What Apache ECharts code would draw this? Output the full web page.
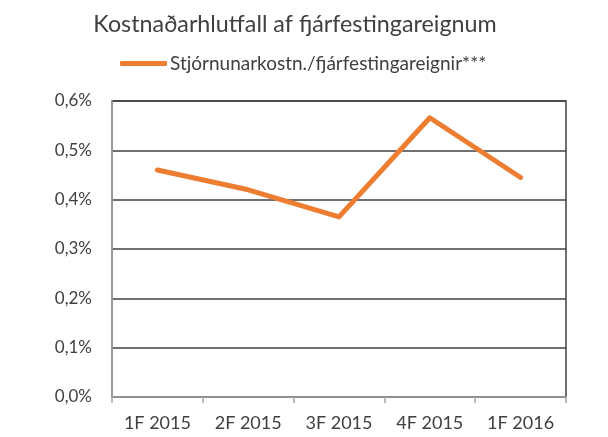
<!DOCTYPE html>
<html>
<head>
<meta charset="utf-8">
<script src="https://cdn.jsdelivr.net/npm/echarts@6/dist/echarts.min.js"></script>
<style>
  html, body { margin: 0; padding: 0; background: #fff; }
  #main { width: 608px; height: 437px; }
</style>
</head>
<body>
<div id="main"></div>
<script>
var titleText = 'Kostnaðarhlutfall af fjárfestingareignum';
var seriesName = 'Stjórnunarkostn./fjárfestingareignir***';
var categories = ['1F 2015', '2F 2015', '3F 2015', '4F 2015', '1F 2016'];
var values = [0.460, 0.420, 0.365, 0.566, 0.445];
var yMin = 0, yMax = 0.6, yStep = 0.1;

var fontFam = 'Lato, "Open Sans", sans-serif';
var textCol = '#404040';

var myChart = echarts.init(document.getElementById('main'));
myChart.setOption({
    animation: false,
    title: {
        text: titleText,
        left: 290,
        textAlign: 'center',
        top: 8,
        textStyle: { fontFamily: fontFam, fontSize: 23.3, fontWeight: 'normal', color: textCol }
    },
    legend: {
        data: [seriesName],
        left: 115,
        top: 49,
        itemWidth: 47,
        itemHeight: 5,
        itemGap: 4,
        icon: 'roundRect',
        textStyle: { fontFamily: fontFam, fontSize: 19, color: textCol, padding: [0, 0, 0, -2] }
    },
    grid: {
        left: 112,
        right: 42,
        top: 101,
        bottom: 40,
        show: true,
        borderColor: '#404040',
        borderWidth: 1.5,
        containLabel: false
    },
    xAxis: {
        type: 'category',
        data: categories,
        boundaryGap: true,
        axisLine: { lineStyle: { color: '#a6a6a6', width: 1.5 } },
        axisTick: { show: true, interval: 0, length: 6, lineStyle: { color: '#a6a6a6', width: 1.5 } },
        axisLabel: { fontFamily: fontFam, fontSize: 18, color: textCol, margin: 17 }
    },
    yAxis: {
        type: 'value',
        min: yMin,
        max: yMax,
        interval: yStep,
        axisLine: { show: true, lineStyle: { color: '#a6a6a6', width: 1.5 } },
        axisTick: { show: false },
        splitLine: { lineStyle: { color: '#404040', width: 1.5 } },
        axisLabel: {
            fontFamily: fontFam, fontSize: 17, color: textCol, margin: 20,
            formatter: function (v) { return v.toFixed(1).replace('.', ',') + '%'; }
        }
    },
    series: [{
        name: seriesName,
        type: 'line',
        data: values,
        symbol: 'none',
        lineStyle: { color: '#ED7D31', width: 5, cap: 'round', join: 'round' },
        itemStyle: { color: '#ED7D31' }
    }]
});
</script>
</body>
</html>
